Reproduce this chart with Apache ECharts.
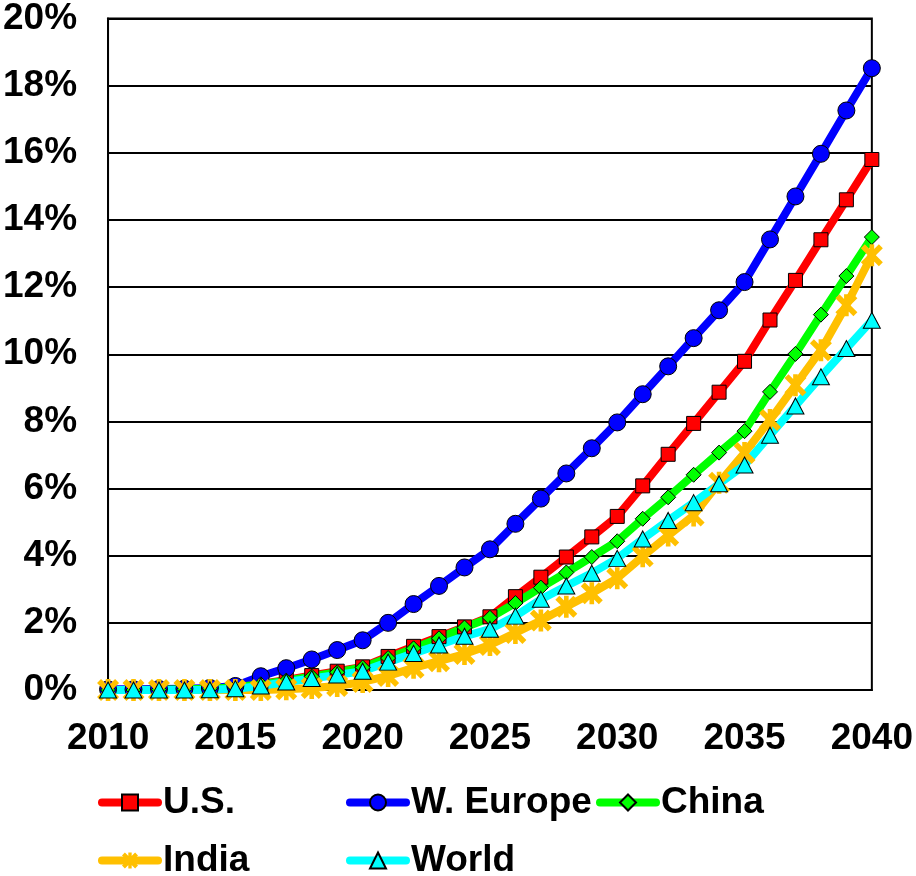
<!DOCTYPE html>
<html>
<head>
<meta charset="utf-8">
<script src="https://cdn.jsdelivr.net/npm/echarts@6/dist/echarts.min.js"></script>
<style>
  html, body { margin: 0; padding: 0; background: #fff; }
  #chart { width: 916px; height: 876px; }
</style>
</head>
<body>
<div id="chart"></div>
<script>
// Years on the horizontal axis
const years = [];
for (let y = 2010; y <= 2040; y++) years.push(String(y));

// Share of the total, in percent, one value per year 2010–2040
const usValues = [0, 0, 0.01, 0.02, 0.04, 0.08, 0.18, 0.30, 0.43, 0.56, 0.69,
  1.00, 1.30, 1.59, 1.88, 2.18, 2.78, 3.36, 3.96, 4.56, 5.17,
  6.08, 7.02, 7.94, 8.87, 9.79, 11.02, 12.20, 13.41, 14.60, 15.80];
const europeValues = [0.02, 0.02, 0.03, 0.04, 0.06, 0.12, 0.41, 0.65, 0.91, 1.19, 1.48,
  2.00, 2.56, 3.10, 3.65, 4.19, 4.95, 5.70, 6.45, 7.20, 7.97,
  8.81, 9.64, 10.48, 11.31, 12.15, 13.42, 14.70, 15.97, 17.26, 18.52];
const chinaValues = [0, 0, 0.01, 0.02, 0.04, 0.08, 0.17, 0.28, 0.40, 0.53, 0.67,
  0.95, 1.24, 1.54, 1.86, 2.15, 2.59, 3.05, 3.50, 3.96, 4.43,
  5.10, 5.74, 6.41, 7.07, 7.71, 8.88, 10.01, 11.18, 12.33, 13.49];
const indiaValues = [0, 0, 0, 0, 0, 0, 0, 0.02, 0.06, 0.12, 0.24,
  0.42, 0.66, 0.86, 1.07, 1.34, 1.70, 2.07, 2.48, 2.88, 3.33,
  3.98, 4.60, 5.20, 6.17, 7.06, 8.04, 9.08, 10.12, 11.46, 12.95];
const worldValues = [0, 0, 0, 0, 0.01, 0.04, 0.12, 0.24, 0.34, 0.45, 0.56,
  0.83, 1.09, 1.34, 1.60, 1.81, 2.20, 2.70, 3.10, 3.48, 3.92,
  4.50, 5.05, 5.58, 6.14, 6.70, 7.59, 8.46, 9.33, 10.17, 11.01];

const seriesNames = ['U.S.', 'W. Europe', 'China', 'India', 'World'];

// Asterisk-style marker: two diagonals plus a vertical bar
const starPath = 'path://M3.6,0L20,16.4L16.4,20L0,3.6Z' +
  'M16.4,0L20,3.6L3.6,20L0,16.4Z' +
  'M7.9,0L12.1,0L12.1,20L7.9,20Z';

const FONT = '"Liberation Sans", Arial, sans-serif';
const LINE_WIDTH = 8;

function lineSeries(name, values, color, symbol, size, bordered) {
  return {
    name: name,
    type: 'line',
    data: values,
    symbol: symbol,
    symbolSize: size,
    showAllSymbol: true,
    lineStyle: { color: color, width: LINE_WIDTH, cap: 'round', join: 'round' },
    itemStyle: {
      color: color,
      borderColor: bordered ? '#000' : color,
      borderWidth: bordered ? 1 : 0
    },
    emphasis: { disabled: true }
  };
}

function legendAt(name, left, top) {
  return {
    data: [name],
    left: left,
    top: top,
    padding: 0,
    itemWidth: 56,
    itemHeight: 20,
    itemGap: 0,
    selectedMode: false,
    lineStyle: { width: LINE_WIDTH, cap: 'round' },
    textStyle: { fontFamily: FONT, fontWeight: 'bold', fontSize: 37, color: '#000' }
  };
}

const chart = echarts.init(document.getElementById('chart'), null, { renderer: 'canvas' });

chart.setOption({
  animation: false,
  backgroundColor: '#fff',
  grid: {
    left: 108, right: 43, top: 17, bottom: 186,
    show: true, borderColor: '#000', borderWidth: 2,
    containLabel: false
  },
  legend: [
    legendAt(seriesNames[0], 98, 784),
    legendAt(seriesNames[1], 346, 784),
    legendAt(seriesNames[2], 596, 784),
    legendAt(seriesNames[3], 98, 842),
    legendAt(seriesNames[4], 346, 842)
  ],
  xAxis: {
    type: 'category',
    data: years,
    boundaryGap: false,
    axisLine: { show: true, lineStyle: { color: '#000', width: 2 } },
    axisTick: { show: false },
    splitLine: { show: false },
    axisLabel: {
      interval: 4,
      margin: 30,
      fontFamily: FONT, fontWeight: 'bold', fontSize: 37, color: '#000'
    }
  },
  yAxis: {
    type: 'value',
    min: 0, max: 20, interval: 2,
    axisLine: { show: true, lineStyle: { color: '#000', width: 2 } },
    axisTick: { show: false },
    splitLine: { show: true, lineStyle: { color: '#000', width: 2 } },
    axisLabel: {
      formatter: '{value}%',
      margin: 31,
      fontFamily: FONT, fontWeight: 'bold', fontSize: 37, color: '#000'
    }
  },
  series: [
    lineSeries(seriesNames[0], usValues, '#FF0000', 'rect', 14, true),
    lineSeries(seriesNames[1], europeValues, '#0000FF', 'circle', 17, true),
    lineSeries(seriesNames[2], chinaValues, '#00FF00', 'diamond', 15, true),
    lineSeries(seriesNames[3], indiaValues, '#FFC000', starPath, 22, false),
    lineSeries(seriesNames[4], worldValues, '#00FFFF', 'triangle', [17, 16], true)
  ]
});
</script>
</body>
</html>
